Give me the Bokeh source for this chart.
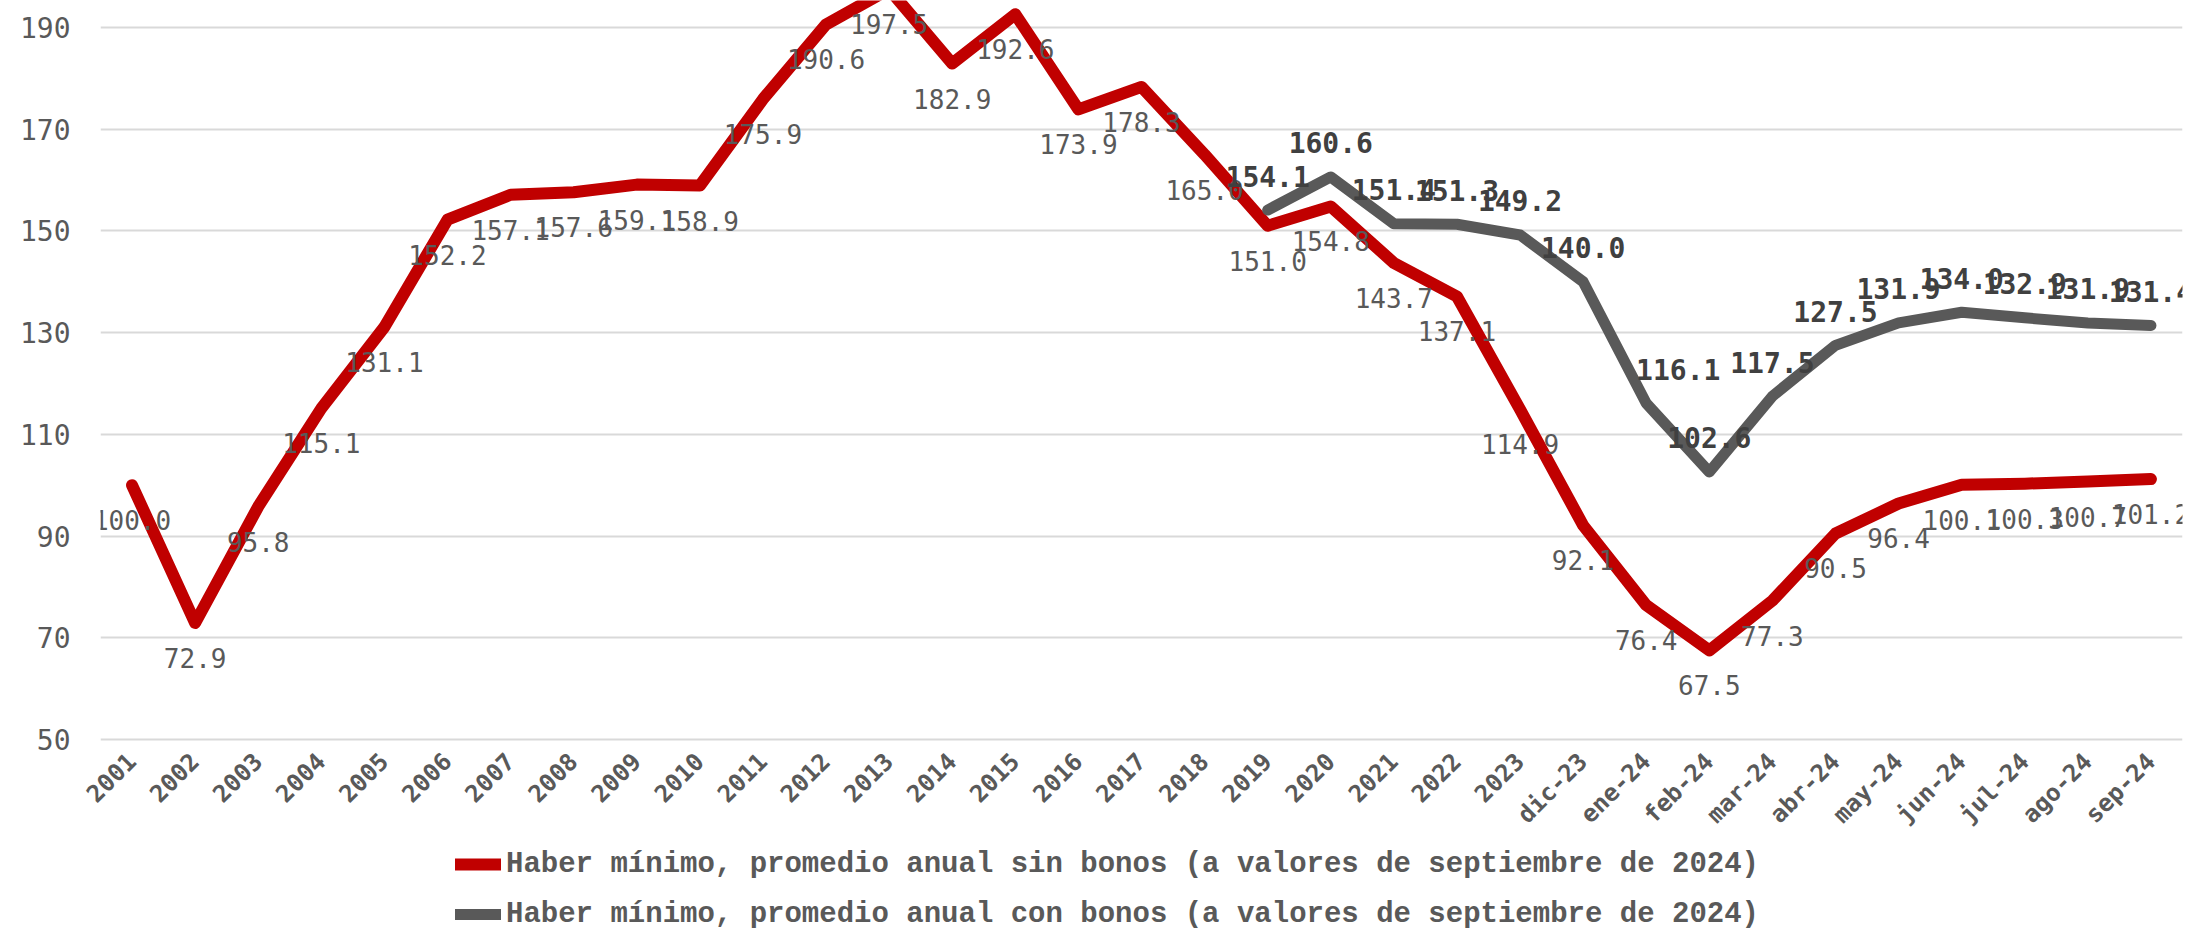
import math
from bokeh.plotting import figure
from bokeh.layouts import column
from bokeh.models import (ColumnDataSource, FactorRange, Range1d, FixedTicker,
                          LabelSet, Legend, LegendItem)
from bokeh.core.properties import value
from bokeh.embed import file_html
from bokeh.resources import INLINE

# ---------------- data ----------------
categories = ["2001", "2002", "2003", "2004", "2005", "2006", "2007", "2008",
              "2009", "2010", "2011", "2012", "2013", "2014", "2015", "2016",
              "2017", "2018", "2019", "2020", "2021", "2022", "2023",
              "dic-23", "ene-24", "feb-24", "mar-24", "abr-24", "may-24",
              "jun-24", "jul-24", "ago-24", "sep-24"]

sin_bonos = [100.0, 72.9, 95.8, 115.1, 131.1, 152.2, 157.1, 157.6,
             159.1, 158.9, 175.9, 190.6, 197.5, 182.9, 192.6, 173.9,
             178.3, 165.0, 151.0, 154.8, 143.7, 137.1, 114.9,
             92.1, 76.4, 67.5, 77.3, 90.5, 96.4,
             100.1, 100.3, 100.7, 101.2]

con_bonos_categories = ["2019", "2020", "2021", "2022", "2023",
                        "dic-23", "ene-24", "feb-24", "mar-24", "abr-24",
                        "may-24", "jun-24", "jul-24", "ago-24", "sep-24"]
con_bonos = [154.1, 160.6, 151.4, 151.3, 149.2,
             140.0, 116.1, 102.6, 117.5, 127.5,
             131.9, 134.0, 132.9, 131.9, 131.4]

y_ticks = [50, 70, 90, 110, 130, 150, 170, 190]

series_names = [
    "Haber mínimo, promedio anual sin bonos (a valores de septiembre de 2024)",
    "Haber mínimo, promedio anual con bonos (a valores de septiembre de 2024)",
]

# label horizontal nudges (px) for the "con bonos" data labels
con_bonos_label_dx = [0, 0, 0, 0, 0, 0, 32, 0, 0, 0, 0, 0, 0, 0, 0]

# ---------------- styles ----------------
RED = "#C00000"
GRAY = "#595959"
TXT = "#595959"
MONO = "DejaVu Sans Mono"
RED_W = 12
GRAY_W = 11

p = figure(width=2195, height=841, output_backend="svg", toolbar_location=None,
           x_range=FactorRange(factors=categories), y_range=Range1d(49.6, 195.3),
           min_border_left=100, min_border_right=13, min_border_top=0,
           min_border_bottom=98, title=None)
p.outline_line_color = None
p.background_fill_color = "white"
p.border_fill_color = "white"

p.xgrid.grid_line_color = None
p.ygrid.grid_line_color = "#D9D9D9"
p.ygrid.grid_line_width = 2
p.yaxis.ticker = FixedTicker(ticks=y_ticks)

for ax in (p.xaxis[0], p.yaxis[0]):
    ax.axis_line_color = None
    ax.major_tick_line_color = None
    ax.minor_tick_line_color = None
    ax.major_tick_out = 0
    ax.major_tick_in = 0
    ax.major_label_text_font = MONO
    ax.major_label_text_color = TXT

p.yaxis.major_label_text_font_size = "28px"
p.yaxis.major_label_standoff = 30
p.xaxis.major_label_text_font_size = "24px"
p.xaxis.major_label_text_font_style = "bold"
p.xaxis.major_label_orientation = math.pi / 4
p.xaxis.major_label_standoff = 16

src_red = ColumnDataSource(dict(x=categories, y=sin_bonos,
                                t=[f"{v:.1f}" for v in sin_bonos]))
src_gray = ColumnDataSource(dict(x=con_bonos_categories, y=con_bonos,
                                 t=[f"{v:.1f}" for v in con_bonos],
                                 dx=con_bonos_label_dx))

p.line("x", "y", source=src_red, line_color=RED, line_width=RED_W,
       line_join="round", line_cap="round")
p.line("x", "y", source=src_gray, line_color=GRAY, line_width=GRAY_W,
       line_join="round", line_cap="round")

lab_red = LabelSet(x="x", y="y", text="t", source=src_red, y_offset=-35,
                   text_align="center", text_baseline="middle",
                   text_font=value(MONO), text_font_size=value("26px"),
                   text_color=TXT)
lab_gray = LabelSet(x="x", y="y", text="t", source=src_gray, y_offset=34,
                    x_offset="dx",
                    text_align="center", text_baseline="middle",
                    text_font=value(MONO), text_font_size=value("28px"),
                    text_font_style=value("bold"), text_color="#404040")
p.add_layout(lab_red)
p.add_layout(lab_gray)

# ---------------- legend strip below the chart ----------------
lg = figure(width=2195, height=89, output_backend="svg", toolbar_location=None,
            x_axis_location=None, y_axis_location=None,
            x_range=Range1d(0, 1), y_range=Range1d(0, 1),
            min_border_left=100, min_border_right=13, min_border_top=0,
            min_border_bottom=0, title=None)
lg.outline_line_color = None
lg.grid.visible = False
nan = float("nan")
lg_red = lg.line(x=[nan], y=[nan], line_color=RED, line_width=RED_W,
                 line_cap="round")
lg_gray = lg.line(x=[nan], y=[nan], line_color=GRAY, line_width=GRAY_W,
                  line_cap="round")

legend = Legend(items=[LegendItem(label=series_names[0], renderers=[lg_red]),
                       LegendItem(label=series_names[1], renderers=[lg_gray])],
                location=(355, -1), orientation="vertical",
                padding=0, margin=0, spacing=16,
                glyph_width=46, glyph_height=34, label_height=34,
                label_standoff=5,
                label_text_font="Liberation Mono", label_text_font_size="29px",
                label_text_font_style="bold", label_text_color=TXT,
                border_line_color=None, background_fill_alpha=0)
lg.add_layout(legend)

layout = column(p, lg, spacing=0)
open("out.html", "w").write(file_html(layout, INLINE))
